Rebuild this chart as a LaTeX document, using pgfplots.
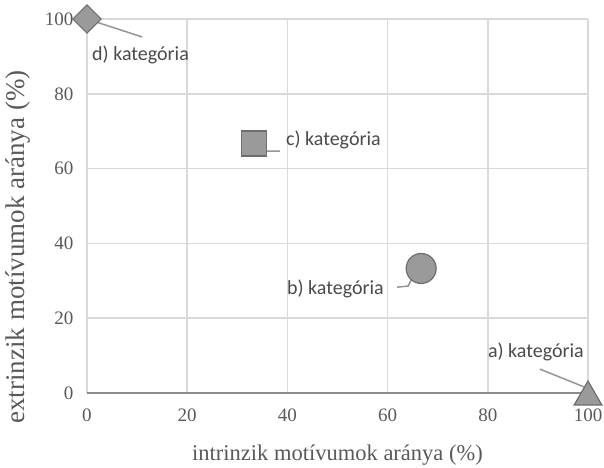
\documentclass[border=0pt]{standalone}
\usepackage{fontspec}
\setmainfont{Liberation Serif}
\newfontfamily\carlito{Carlito}
\usepackage{pgfplots}
\pgfplotsset{compat=1.18}
\definecolor{mk}{HTML}{9A9A9A}
\definecolor{mkedge}{HTML}{6E6E6E}
\definecolor{grd}{HTML}{D9D9D9}
\definecolor{axl}{HTML}{8C8C8C}
\definecolor{tickc}{HTML}{595959}
\definecolor{lbl}{HTML}{4A4A4A}
\definecolor{lead}{HTML}{959595}
\tikzset{lab/.style={font=\carlito\fontsize{20bp}{24bp}\selectfont, text=lbl, inner sep=0pt, anchor=west}}

\begin{document}
\begin{tikzpicture}
\begin{axis}[
  scale only axis, width=501bp, height=374bp,
  xmin=0, xmax=100, ymin=0, ymax=100,
  xtick={0,20,...,100}, ytick={0,20,...,100},
  grid=major, major grid style={grd, line width=1.5bp},
  axis line style={draw=none},
  major tick length=0pt,
  clip=false,
  /pgf/number format/assume math mode=true,
  tick label style={font=\fontsize{19bp}{22bp}\selectfont, text=tickc},
  yticklabel style={xshift=-10bp},
  xticklabel style={yshift=-12bp},
]
% x axis line
\draw[axl, line width=2.5bp] (axis cs:0,0) -- (axis cs:100,0);

% d) kategoria
\addplot[only marks, mark=square*, mark size=10bp,
  mark options={rotate=45, fill=mk, draw=mkedge, line width=1.2bp}]
  coordinates {(0,100)};
% c) kategoria
\addplot[only marks, mark=square*, mark size=12.5bp,
  mark options={fill=mk, draw=mkedge, line width=1.2bp}]
  coordinates {(33.3,66.7)};
% b) kategoria
\addplot[only marks, mark=*, mark size=15bp,
  mark options={fill=mk, draw=mkedge, line width=1.2bp}]
  coordinates {(66.7,33.3)};
% a) kategoria
\addplot[only marks, mark=triangle*, mark size=16bp,
  mark options={yshift=-4bp, fill=mk, draw=mkedge, line width=1.2bp}]
  coordinates {(100,0)};

% leader lines
\draw[lead, line width=1.5bp] (axis cs:0,100) -- (axis cs:11,95.2);
\draw[lead, line width=1.5bp] (axis cs:33.5,65.8) -- (axis cs:35.7,64.7) -- (axis cs:38.5,64.7);
\draw[lead, line width=1.5bp] (axis cs:65.9,33.4) -- (axis cs:64.1,28.6) -- (axis cs:61.9,28.3);
\draw[lead, line width=1.5bp] (axis cs:90.4,6.4) -- (axis cs:99.8,1.3);

\node[lab] at (axis cs:1,90.4) {d) kategória};
\node[lab] at (axis cs:39.7,67.6) {c) kategória};
\node[lab] at (axis cs:39.9,27.8) {b) kategória};
\node[lab] at (axis cs:80,11) {a) kategória};
\end{axis}

\node[font=\fontsize{22.5bp}{26bp}\selectfont, text=tickc]
  at ([shift={(250.5bp,-62bp)}]current axis.south west) {intrinzik motívumok aránya (\%)};
\node[rotate=90, font=\fontsize{27bp}{30bp}\selectfont, text=tickc]
  at ([shift={(-69bp,146bp)}]current axis.south west) {extrinzik motívumok aránya (\%)};

\pgfresetboundingbox
\path ([shift={(-87bp,-75bp)}]current axis.south west) rectangle ([shift={(16bp,19bp)}]current axis.north east);
\end{tikzpicture}
\end{document}
